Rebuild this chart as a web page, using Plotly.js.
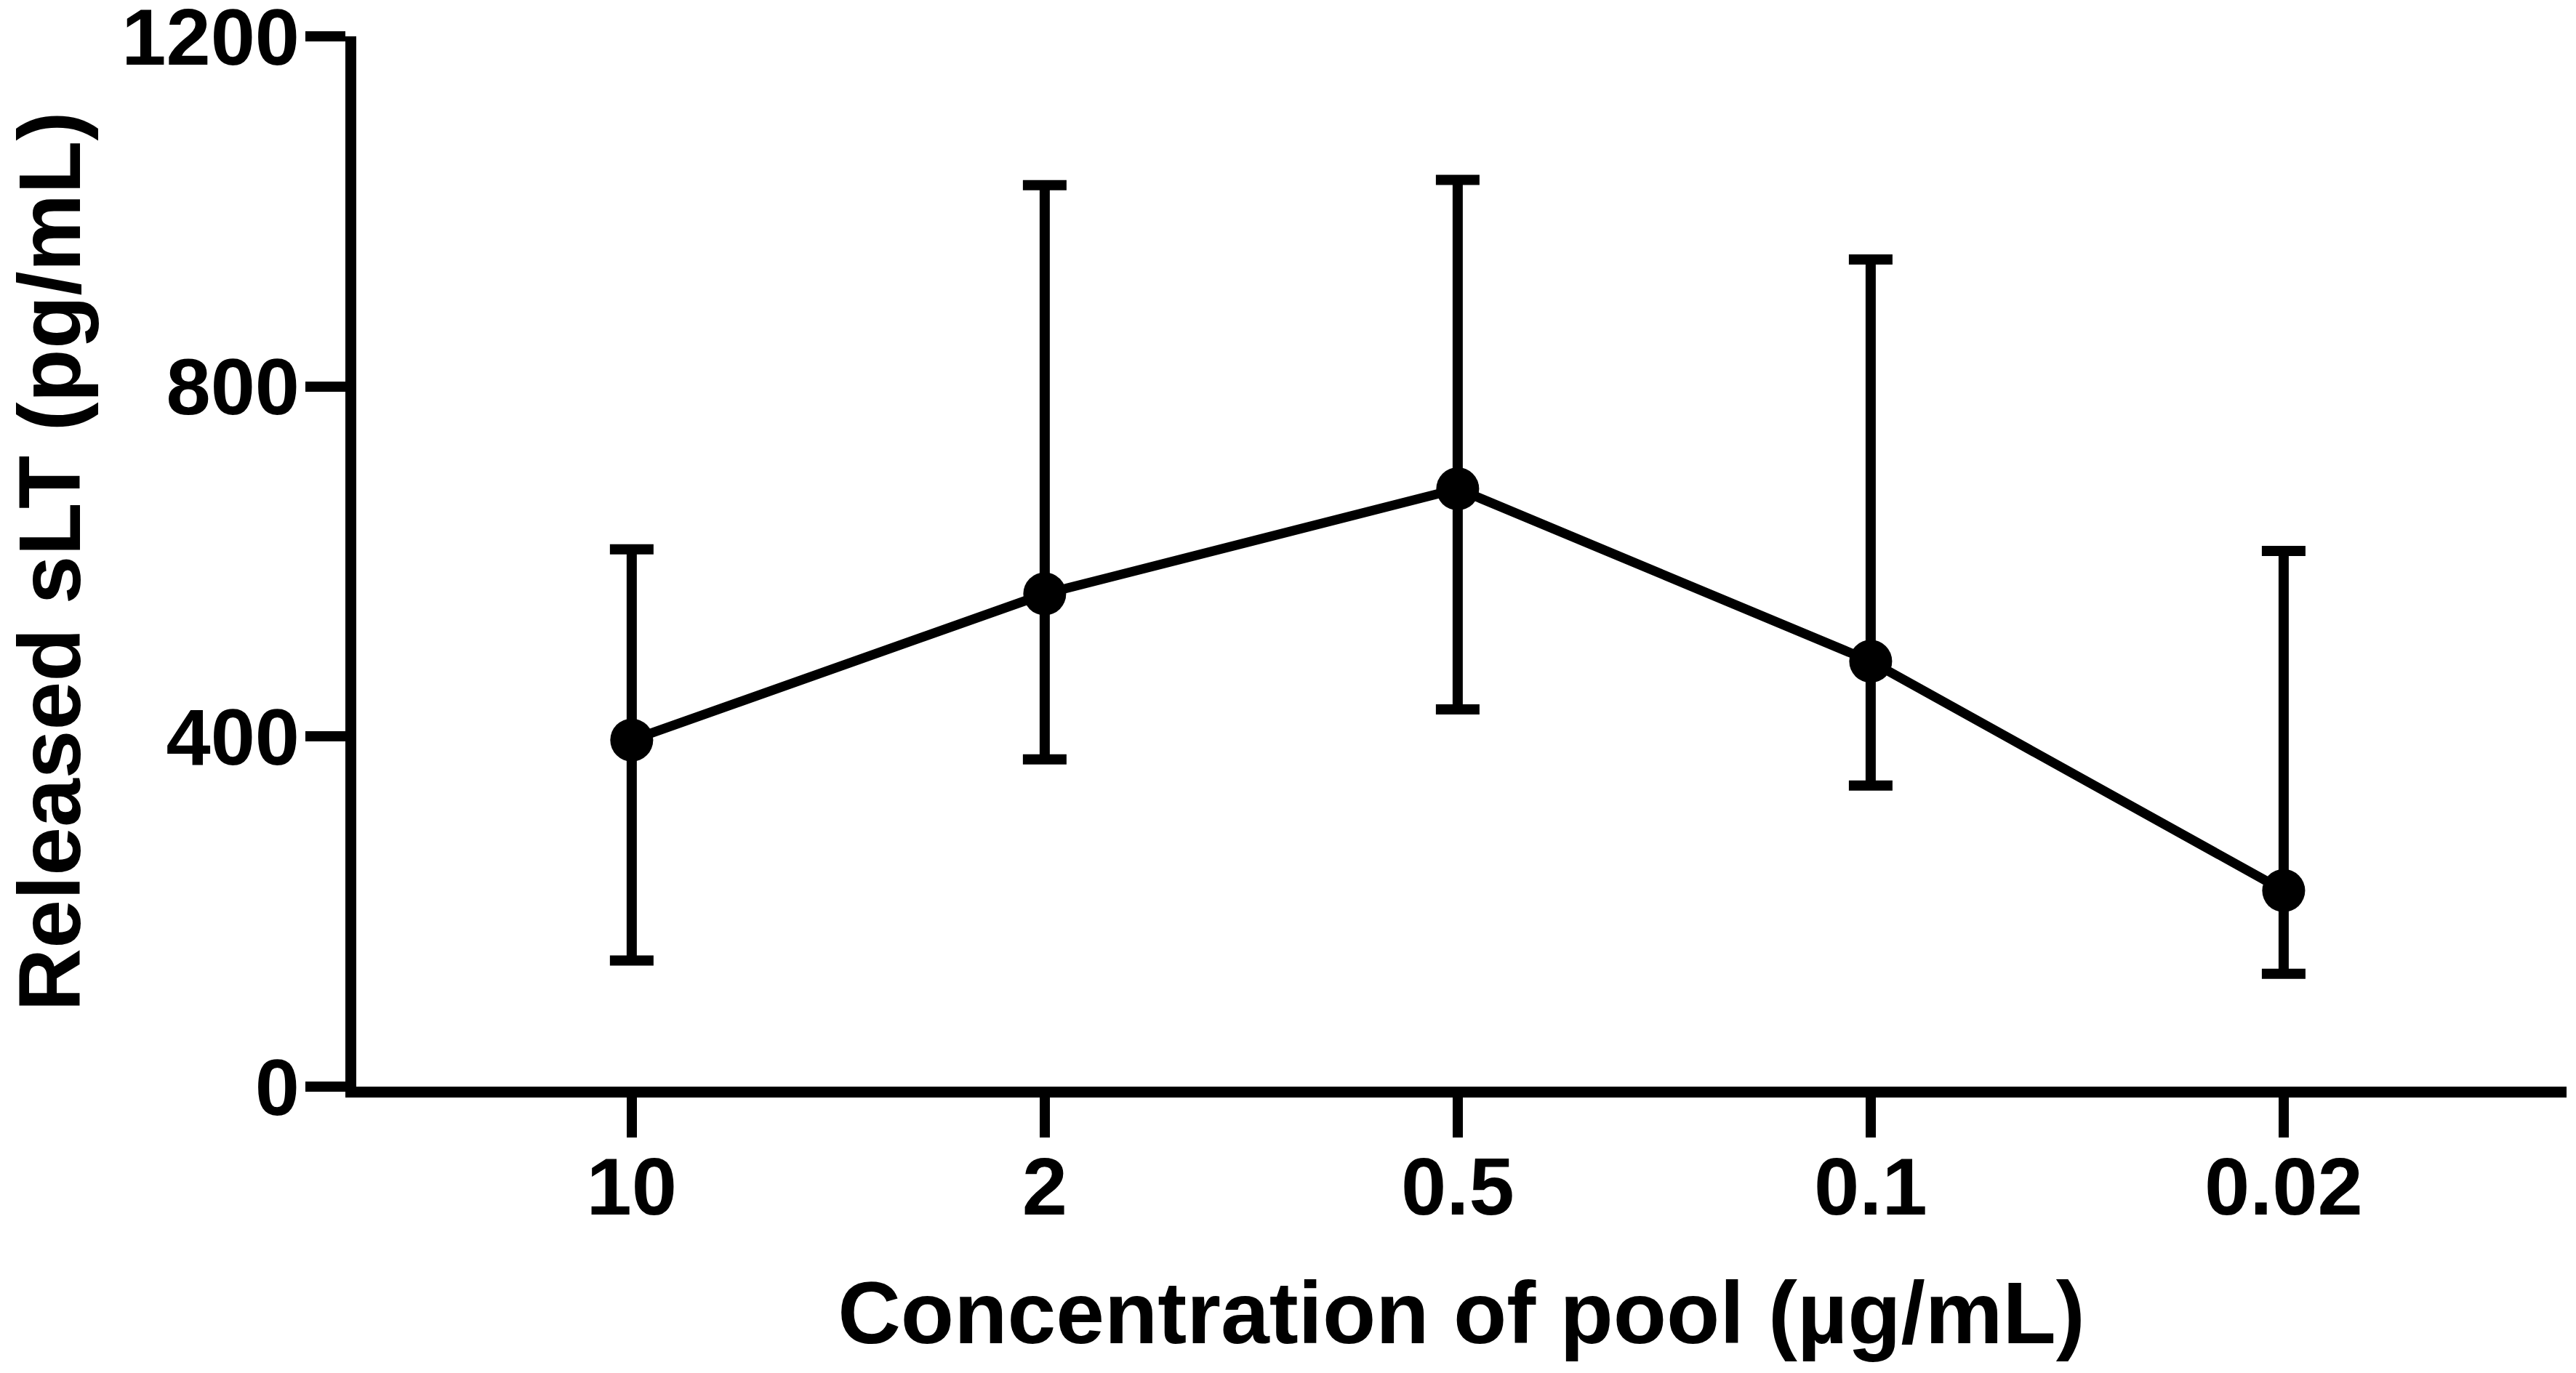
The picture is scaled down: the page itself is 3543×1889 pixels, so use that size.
<!DOCTYPE html>
<html>
<head>
<meta charset="utf-8">
<script src="https://cdn.plot.ly/plotly-3.0.1.min.js"></script>
<style>
  html, body { margin: 0; padding: 0; background: #fff; }
  #chart { width: 3543px; height: 1889px; }
</style>
</head>
<body>
<div id="chart"></div>
<script>
'use strict';
/* concentrations of the pool (ug/mL), shown as categories */
var conc = ['10', '2', '0.5', '0.1', '0.02'];

/* released sLT (pg/mL), mean and error bar lengths */
var released = [396, 563, 683, 486, 224];
var err_up = [218, 467, 353, 459, 388];
var err_down = [252, 189, 252, 142, 95];

var y_ticks = [0, 400, 800, 1200];

var font_family = 'Liberation Sans, Arial, Helvetica, sans-serif';

var trace = {
  x: conc,
  y: released,
  type: 'scatter',
  mode: 'lines+markers',
  line: { color: '#000', width: 13 },
  marker: { color: '#000', size: 59 },
  error_y: {
    type: 'data',
    symmetric: false,
    array: err_up,
    arrayminus: err_down,
    color: '#000',
    thickness: 14,
    width: 30
  },
  showlegend: false,
  hoverinfo: 'x+y'
};

var layout = {
  width: 3543,
  height: 1889,
  margin: { l: 490, r: 13, t: 50, b: 394 },
  paper_bgcolor: '#fff',
  plot_bgcolor: '#fff',
  font: { family: font_family, color: '#000', weight: 'bold' },
  xaxis: {
    type: 'category',
    range: [-0.667, 4.685],
    showline: true,
    linecolor: '#000',
    linewidth: 15,
    showgrid: false,
    zeroline: false,
    ticks: 'outside',
    ticklen: 55,
    tickwidth: 14,
    tickcolor: '#000',
    ticklabelstandoff: -28,
    tickfont: { size: 112, family: font_family, weight: 'bold' },
    title: {
      text: 'Concentration of pool (µg/mL)',
      font: { size: 120, family: font_family, weight: 'bold' },
      standoff: 76
    }
  },
  yaxis: {
    range: [0, 1200],
    tickvals: y_ticks,
    showline: true,
    linecolor: '#000',
    linewidth: 15,
    showgrid: false,
    zeroline: false,
    ticks: 'outside',
    ticklen: 55,
    tickwidth: 14,
    tickcolor: '#000',
    ticklabelstandoff: -14,
    ticklabeloverflow: 'allow',
    tickfont: { size: 110, family: font_family, weight: 'bold' }
  },
  // y title as an annotation so it can sit close to the page edge like the original
  annotations: [{
    text: 'Released sLT (pg/mL)',
    xref: 'paper', yref: 'paper',
    x: -0.1385, y: 0.5,
    xanchor: 'center', yanchor: 'middle',
    textangle: -90,
    showarrow: false,
    font: { size: 120, family: font_family, color: '#000', weight: 'bold' }
  }]
};

Plotly.newPlot('chart', [trace], layout, { displayModeBar: false, responsive: false });
</script>
</body>
</html>
